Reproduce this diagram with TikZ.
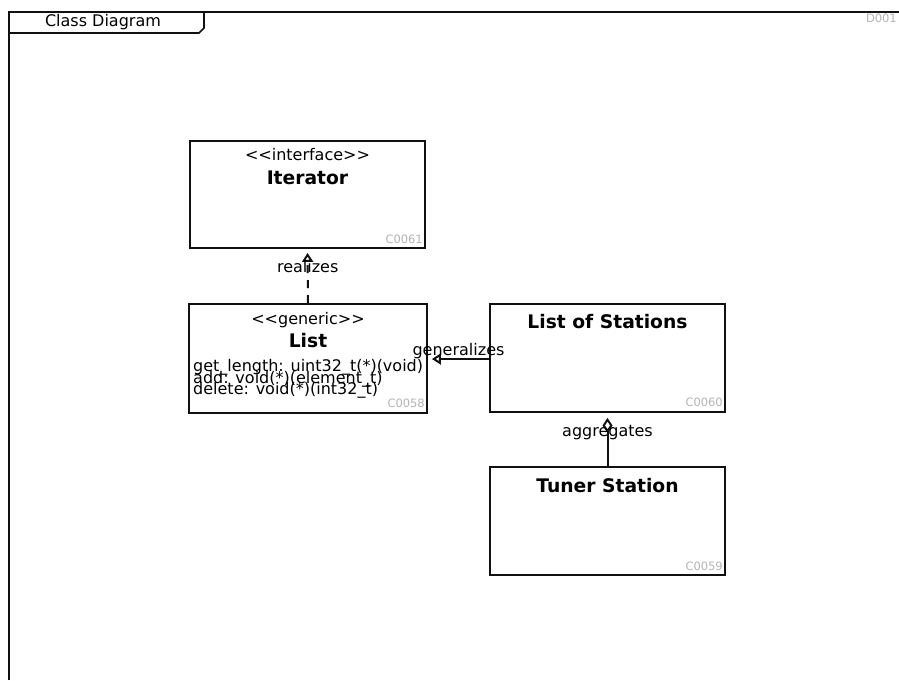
\documentclass[tikz,border=0pt]{standalone}
\usepackage{fontspec}
\setmainfont{DejaVu Sans}
\usetikzlibrary{arrows.meta, positioning}
\definecolor{linegray}{HTML}{111111}
\definecolor{idgray}{HTML}{B4B4B4}
\tikzset{
  frame/.style={draw=linegray, line width=1.7pt, line join=miter},
  cls/.style={draw=linegray, line width=1.8pt, fill=white, inner sep=0pt},
  txt/.style={inner sep=0pt, anchor=base, font=\fontsize{16}{18}\selectfont},
  ttl/.style={inner sep=0pt, anchor=base, font=\fontsize{18.7}{21}\selectfont\bfseries},
  attr/.style={inner sep=0pt, anchor=base west, font=\fontsize{16}{18}\selectfont},
  ident/.style={inner sep=0pt, anchor=base east, text=idgray, font=\fontsize{11.5}{13}\selectfont},
  lbl/.style={inner sep=0pt, anchor=base, font=\fontsize{16}{18}\selectfont},
  realize/.style={-{Triangle[open, length=9pt, width=11pt]}, line width=2pt, draw=linegray,
                  dash pattern=on 8pt off 7pt, shorten >=4pt},
  general/.style={-{Triangle[open, length=9pt, width=11pt]}, line width=2pt, draw=linegray, shorten >=4pt},
  aggr/.style={-{Diamond[open, length=15pt, width=10pt]}, line width=2pt, draw=linegray, shorten >=5pt},
}
\newcommand{\stereo}[1]{<\kern0pt<#1>\kern0pt>}

\begin{document}
\begin{tikzpicture}[x=1pt, y=-1pt]
  \useasboundingbox (0,0) rectangle (899,680);
  % diagram frame and its tab
  \draw[frame] (9,680) -- (9,12) -- (899,12);
  \draw[frame] (9,33) -- (199,33) -- (204,28) -- (204,12);
  \node[txt] (frametitle) at (103,26.7) {Class Diagram};
  \node[ident] (frameid) at (897,22.5) {D001};

  % classes
  \node[cls, minimum width=235pt, minimum height=107pt] (iter) at (307.5,194.5) {};
  \node[cls, minimum width=238pt, minimum height=109pt] (list) at (308,358.5) {};
  \node[cls, minimum width=235pt, minimum height=108pt] (stations) at (607.5,358) {};
  \node[cls, minimum width=235pt, minimum height=108pt] (tuner) at (607.5,521) {};

  \node[txt] (iterst) at (307.5,160) {\stereo{interface}};
  \node[ttl] (itername) at (307.5,184) {Iterator};
  \node[ident] (iterid) at (423,243.5) {C0061};

  \node[txt] (listst) at (308,324) {\stereo{generic}};
  \node[ttl] (listname) at (308,347) {List};
  \foreach \t [count=\i] in {get\_length: uint32\_t(*)(void), add: void(*)(element\_t), delete: void(*)(int32\_t)}
    \node[attr] (attr\i) at (193,359.5+\i*11.8) {\t};
  \node[ident] (listid) at (425,407.5) {C0058};

  \node[ttl] (stationsname) at (607.5,328) {List of Stations};
  \node[ident] (stationsid) at (723,406.5) {C0060};

  \node[ttl] (tunername) at (607.5,492) {Tuner Station};
  \node[ident] (tunerid) at (723,570) {C0059};

  % relations
  \draw[realize] (list.north) -- (iter.south) node[lbl, pos=0.56] (realizeslbl) {realizes};
  \draw[general] (stations.west |- 0,359) -- (list.east |- 0,359) node[lbl, pos=0.5, yshift=4pt] (generallbl) {generalizes};
  \draw[aggr] (tuner.north) -- (stations.south) node[lbl, pos=0.55] (aggrlbl) {aggregates};
\end{tikzpicture}
\end{document}
